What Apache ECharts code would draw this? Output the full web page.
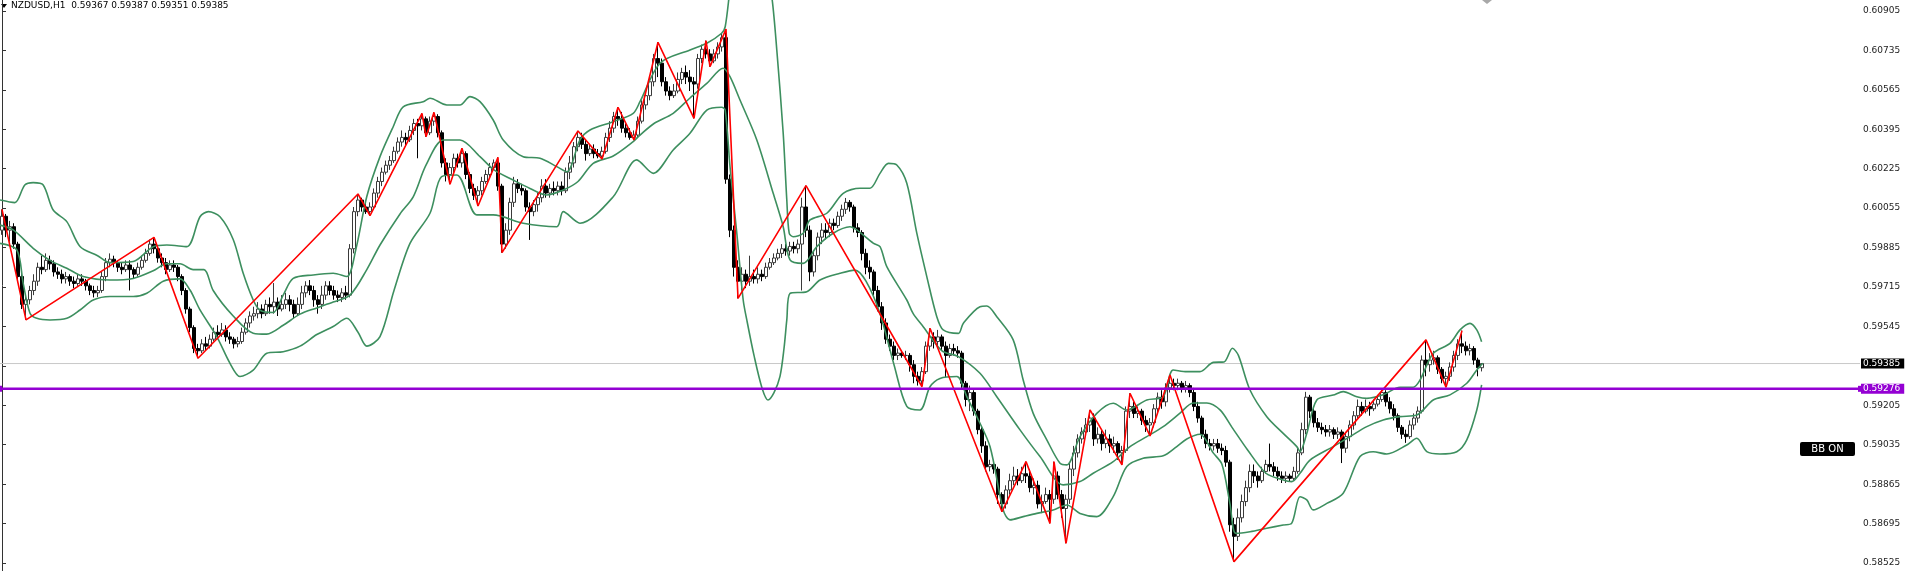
<!DOCTYPE html>
<html><head><meta charset="utf-8">
<script src="https://cdn.jsdelivr.net/npm/echarts@6/dist/echarts.min.js"></script>
<style>html,body{margin:0;padding:0;background:#fff}#c{width:1911px;height:571px}</style>
</head><body><div id="c"></div>
<script>
// ---- DATA (prices in units of 0.00001) ----
const symbolTitle = 'NZDUSD,H1';
const lastBar = ['0.59367', '0.59387', '0.59351', '0.59385'];
const currentPrice = 59385;
const levelPrice = 59276;
const tickLabels = ['0.58525','0.58695','0.58865','0.59035','0.59205','0.59375','0.59545','0.59715','0.59885','0.60055','0.60225','0.60395','0.60565','0.60735','0.60905'];
const shownTickLabels = ['0.58525','0.58695','0.58865','0.59035','0.59205','0.59545','0.59715','0.59885','0.60055','0.60225','0.60395','0.60565','0.60735','0.60905'];
const axisMin = 0.584906, axisMax = 0.609524;
const totalSlots = 465;

const candleOpen = [
59960,60020,59960,59975,59900,59760,59640,59660,59700,59740,
59800,59790,59830,59815,59780,59770,59750,59760,59740,59730,
59750,59740,59720,59700,59690,59700,59760,59820,59835,59820,
59800,59790,59810,59790,59770,59800,59830,59860,59900,59880,
59840,59820,59790,59810,59800,59760,59700,59620,59540,59450,
59440,59470,59460,59490,59520,59510,59530,59500,59490,59470,
59480,59520,59560,59590,59600,59620,59600,59640,59630,59650,
59620,59640,59660,59640,59600,59640,59690,59720,59700,59660,
59640,59680,59720,59700,59680,59670,59690,59680,59880,60040,
60090,60060,60040,60060,60120,60170,60210,60240,60260,60300,
60340,60360,60350,60390,60420,60410,60440,60380,60430,60450,
60380,60250,60200,60230,60270,60250,60290,60200,60140,60110,
60130,60170,60200,60230,60250,60150,59900,59960,60080,60160,
60140,60130,60060,60040,60070,60100,60150,60120,60140,60130,
60150,60130,60210,60250,60320,60360,60330,60290,60310,60290,
60280,60300,60360,60400,60450,60440,60400,60380,60360,60370,
60430,60500,60540,60600,60700,60680,60600,60560,60540,60560,
60610,60640,60620,60600,60590,60700,60740,60720,60690,60720,
60750,60790,60180,59960,59800,59740,59770,59740,59760,59750,
59770,59760,59800,59820,59840,59860,59880,59870,59890,59880,
59900,60060,59960,59780,59850,59930,59960,59950,59990,59980,
60020,60050,60080,60060,59970,59950,59860,59800,59780,59700,
59630,59560,59490,59460,59420,59430,59420,59420,59380,59330,
59310,59350,59460,59500,59480,59500,59460,59420,59450,59440,
59430,59300,59230,59260,59180,59100,59030,58940,58950,58930,
58820,58780,58840,58880,58900,58880,58910,58900,58850,58860,
58780,58790,58820,58800,58900,58820,58760,58800,58930,59000,
59060,59090,59120,59150,59060,59080,59040,59060,59030,59040,
59000,59010,59180,59200,59170,59180,59140,59120,59130,59190,
59240,59220,59280,59300,59290,59300,59280,59290,59260,59200,
59150,59080,59040,59030,59040,59020,59010,58960,58690,58640,
58720,58790,58850,58920,58900,58880,58920,58950,58940,58920,
58900,58890,58900,58890,58920,59000,59100,59240,59180,59130,
59110,59100,59090,59100,59080,59090,59020,59070,59120,59160,
59200,59180,59200,59190,59210,59230,59260,59220,59190,59160,
59110,59080,59070,59120,59150,59180,59400,59380,59400,59410,
59360,59320,59330,59370,59420,59470,59460,59440,59450,59400,
59367];
const candleClose = [
60020,59960,59975,59900,59760,59640,59660,59700,59740,59800,
59790,59830,59815,59780,59770,59750,59760,59740,59730,59750,
59740,59720,59700,59690,59700,59760,59820,59835,59820,59800,
59790,59810,59790,59770,59800,59830,59860,59900,59880,59840,
59820,59790,59810,59800,59760,59700,59620,59540,59450,59440,
59470,59460,59490,59520,59510,59530,59500,59490,59470,59480,
59520,59560,59590,59600,59620,59600,59640,59630,59650,59620,
59640,59660,59640,59600,59640,59690,59720,59700,59660,59640,
59680,59720,59700,59680,59670,59690,59680,59880,60040,60090,
60060,60040,60060,60120,60170,60210,60240,60260,60300,60340,
60360,60350,60390,60420,60410,60440,60380,60430,60450,60380,
60250,60200,60230,60270,60250,60290,60200,60140,60110,60130,
60170,60200,60230,60250,60150,59900,59960,60080,60160,60140,
60130,60060,60040,60070,60100,60150,60120,60140,60130,60150,
60130,60210,60250,60320,60360,60330,60290,60310,60290,60280,
60300,60360,60400,60450,60440,60400,60380,60360,60370,60430,
60500,60540,60600,60700,60680,60600,60560,60540,60560,60610,
60640,60620,60600,60590,60700,60740,60720,60690,60720,60750,
60790,60180,59960,59800,59740,59770,59740,59760,59750,59770,
59760,59800,59820,59840,59860,59880,59870,59890,59880,59900,
60060,59960,59780,59850,59930,59960,59950,59990,59980,60020,
60050,60080,60060,59970,59950,59860,59800,59780,59700,59630,
59560,59490,59460,59420,59430,59420,59420,59380,59330,59310,
59350,59460,59500,59480,59500,59460,59420,59450,59440,59430,
59300,59230,59260,59180,59100,59030,58940,58950,58930,58820,
58780,58840,58880,58900,58880,58910,58900,58850,58860,58780,
58790,58820,58800,58900,58820,58760,58800,58930,59000,59060,
59090,59120,59150,59060,59080,59040,59060,59030,59040,59000,
59010,59180,59200,59170,59180,59140,59120,59130,59190,59240,
59220,59280,59300,59290,59300,59280,59290,59260,59200,59150,
59080,59040,59030,59040,59020,59010,58960,58690,58640,58720,
58790,58850,58920,58900,58880,58920,58950,58940,58920,58900,
58890,58900,58890,58920,59000,59100,59240,59180,59130,59110,
59100,59090,59100,59080,59090,59020,59070,59120,59160,59200,
59180,59200,59190,59210,59230,59260,59220,59190,59160,59110,
59080,59070,59120,59150,59180,59400,59380,59400,59410,59360,
59320,59330,59370,59420,59470,59460,59440,59450,59400,59367,
59385];
const candleLow = [
59940,59930,59910,59880,59740,59620,59573,59640,59680,59720,
59770,59780,59790,59760,59750,59730,59730,59720,59710,59720,
59720,59700,59680,59670,59672,59690,59740,59800,59800,59780,
59770,59780,59700,59750,59760,59790,59820,59850,59860,59820,
59800,59770,59780,59780,59740,59680,59600,59520,59430,59408,
59430,59440,59450,59480,59490,59500,59480,59470,59450,59455,
59470,59510,59540,59570,59580,59580,59590,59600,59600,59590,
59610,59620,59610,59580,59590,59620,59670,59680,59630,59600,
59620,59660,59680,59660,59650,59650,59660,59670,59860,60020,
60040,60030,60023,60050,60100,60150,60200,60220,60250,60290,
60320,60320,60340,60370,60270,60390,60363,60370,60410,60360,
60230,60170,60158,60200,60230,60230,60180,60120,60090,60064,
60110,60160,60190,60220,60130,59863,59880,59940,60060,60120,
60110,60040,59918,60020,60040,60080,60100,60100,60110,60110,
60110,60120,60180,60230,60300,60310,60260,60280,60270,60270,
60267,60290,60340,60380,60410,60380,60360,60350,60349,60360,
60420,60480,60520,60580,60620,60580,60540,60520,60530,60550,
60590,60590,60560,60442,60570,60680,60700,60665,60680,60700,
60730,60160,59930,59760,59666,59700,59710,59720,59730,59730,
59740,59750,59790,59810,59830,59840,59850,59850,59860,59860,
59700,59930,59740,59760,59830,59900,59920,59930,59960,59970,
60000,60030,60040,59950,59930,59830,59770,59750,59680,59610,
59530,59470,59440,59400,59400,59410,59400,59350,59300,59290,
59285,59340,59440,59450,59460,59440,59327,59410,59420,59410,
59280,59200,59180,59160,59080,59000,58920,58920,58910,58780,
58746,58760,58820,58860,58860,58870,58870,58830,58820,58760,
58740,58780,58696,58780,58800,58720,58610,58780,58900,58980,
59040,59080,59090,59030,59040,59010,59020,59000,59000,58970,
58948,59000,59150,59150,59150,59120,59090,59073,59110,59170,
59190,59200,59260,59270,59270,59260,59260,59240,59180,59130,
59060,59020,59010,59010,59000,58990,58940,58660,58531,58620,
58700,58770,58830,58870,58850,58870,58910,58920,58900,58880,
58870,58870,58875,58880,58910,58990,59080,59150,59110,59090,
59080,59070,59070,59060,59060,58956,59000,59050,59100,59150,
59160,59170,59160,59180,59200,59220,59200,59170,59140,59090,
59060,59043,59060,59100,59130,59170,59330,59350,59380,59340,
59300,59283,59310,59350,59400,59430,59420,59420,59380,59330,
59351];
const candleHigh = [
60050,60030,60000,59990,59910,59770,59680,59720,59770,59820,
59850,59860,59850,59830,59800,59790,59780,59770,59760,59770,
59770,59750,59730,59720,59720,59780,59840,59860,59850,59830,
59820,59830,59830,59800,59820,59850,59880,59920,59929,59890,
59860,59840,59830,59830,59810,59770,59710,59630,59550,59470,
59490,59500,59510,59540,59550,59560,59550,59520,59500,59500,
59540,59580,59610,59630,59650,59640,59660,59670,59732,59670,
59680,59690,59680,59660,59670,59720,59740,59745,59720,59680,
59720,59740,59740,59720,59700,59710,59720,59900,60060,60116,
60100,60080,60080,60140,60190,60230,60260,60280,60320,60360,
60390,60380,60410,60440,60440,60464,60450,60450,60468,60460,
60390,60270,60250,60290,60290,60313,60300,60210,60160,60150,
60190,60220,60250,60265,60274,60160,59990,60100,60190,60180,
60160,60140,60080,60090,60120,60180,60180,60160,60170,60170,
60170,60230,60280,60340,60388,60380,60350,60330,60330,60310,
60320,60380,60430,60470,60490,60470,60420,60400,60390,60450,
60520,60560,60620,60720,60770,60700,60620,60580,60590,60640,
60660,60670,60650,60620,60720,60760,60777,60740,60740,60770,
60810,60827,60200,59980,59830,59800,59790,59850,59790,59800,
59790,59820,59840,59860,59880,59900,59900,59910,59910,59920,
60100,60152,59980,59870,59950,59990,59990,60010,60010,60040,
60070,60099,60090,60070,59990,59960,59880,59830,59790,59720,
59650,59580,59510,59480,59450,59440,59440,59430,59400,59350,
59370,59480,59537,59520,59530,59510,59480,59470,59470,59460,
59440,59310,59290,59270,59190,59110,59050,58970,58970,58940,
58830,58860,58910,58940,58930,58940,58962,58930,58890,58880,
58820,58850,58840,58962,58920,58840,58820,58960,59030,59080,
59110,59150,59185,59170,59110,59100,59100,59080,59070,59050,
59030,59200,59257,59220,59200,59190,59160,59150,59210,59260,
59270,59300,59336,59320,59320,59310,59310,59300,59280,59220,
59160,59100,59060,59060,59060,59040,59030,58970,58720,58760,
58820,58880,58950,58950,58920,58940,58970,59040,58960,58940,
58920,58920,58910,58940,59020,59130,59263,59250,59200,59150,
59130,59120,59120,59110,59110,59100,59090,59140,59180,59230,
59220,59230,59220,59230,59250,59271,59270,59240,59210,59170,
59120,59100,59140,59170,59200,59420,59487,59430,59440,59420,
59370,59350,59390,59440,59490,59527,59480,59470,59460,59410,
59387];

// ZigZag pivots (bar index, price)
const zigzagBar = [0,6,38,49,89,92,105,106,108,112,115,119,124,125,144,150,154,158,164,173,176,177,181,184,201,230,232,250,256,262,263,266,272,280,282,287,292,308,356,361,365];
const zigzagPrice = [60050,59573,59929,59408,60116,60023,60464,60363,60468,60158,60313,60064,60274,59863,60388,60267,60490,60349,60770,60442,60777,60665,60827,59666,60152,59285,59537,58746,58962,58696,58962,58610,59185,58948,59257,59073,59336,58531,59487,59283,59527];

// Bollinger bands (bar position, price)
const bbUpperBar = [-0.5,3.2,5.7,7.8,10.3,12.8,16.2,19.5,23.9,27,32.8,37.8,41.2,46.2,49.5,51.6,54.5,57.8,60.3,62.8,64.5,67.8,70.3,72.8,77.8,82.8,86.2,88.5,91.2,94.5,97.8,100.3,105.3,107,111.2,114.5,117,119.5,122.8,125.3,130.3,134.5,138.7,141.2,144.5,147,152.8,157.8,159.5,164.5,172,176.2,179.9,180.8,182,184,186.5,189,191,192.5,193.7,195.3,196.2,196.8,197.8,200.3,202,206.2,210.3,214.5,217,219.5,221.6,223.7,226.2,228.7,231.2,233.7,235.3,239.1,240.3,244.5,246.2,248.7,252.8,255.3,257.8,261.2,264.5,266.2,269.5,273.7,277.8,281.2,286.2,290.3,292.8,296.2,299.5,302.8,305.5,307.6,309.1,312,316.2,320.3,323.7,324.5,326.2,328.7,332.8,335.3,338.7,341.2,345.3,349.5,352.8,354.5,357.8,362,364.5,367,368.7,369.9];
const bbUpper = [60090,60079,60155,60165,60155,60047,59997,59890,59850,59820,59825,59889,59896,59889,60018,60040,60018,59920,59774,59659,59615,59605,59680,59752,59767,59774,59760,59880,60105,60277,60406,60492,60514,60529,60500,60500,60536,60514,60435,60349,60277,60270,60234,60212,60349,60392,60428,60464,60514,60680,60737,60766,60809,60837,61000,61250,61400,61350,61100,60960,60737,60378,60090,59947,59932,59947,60004,60033,60119,60141,60141,60205,60248,60241,60162,59947,59760,59587,59530,59515,59558,59630,59633,59587,59487,59314,59170,59056,58955,58948,59070,59170,59214,59185,59228,59242,59357,59350,59350,59390,59392,59451,59420,59271,59156,59084,59027,59005,59084,59228,59249,59264,59242,59235,59250,59283,59283,59314,59429,59472,59530,59558,59530,59479];
const bbMiddleBar = [-0.5,2.8,7.8,12,16.2,20.3,27,32.8,37.8,41.2,44.5,47.8,50.5,52.8,57.8,62.8,66.2,70.3,74.5,78.7,82.8,87,91.2,94.5,99.5,102.8,106,110.3,114.5,119.5,123,127.8,132,136.2,140.3,144,147.8,152.8,157.8,159.5,163,167.8,172,176.2,180.3,182,184.5,188.7,192.8,195.3,197,200.3,203.7,207.8,212,213.7,217.8,219.5,221.2,226.2,227.8,230.3,235,239.1,244.5,248.7,254.5,259.5,265.3,269.5,272.8,277.8,282,286.2,290.3,294.5,297.8,301.2,304.5,307.5,311.5,316,320.3,322.4,324.5,327,332.8,337,341.2,345.3,349.5,353.7,357.8,362,366.2,368.7,370.2];
const bbMiddle = [59982,59961,59882,59830,59796,59760,59745,59752,59785,59815,59815,59790,59790,59700,59590,59516,59512,59550,59598,59625,59650,59680,59790,59896,60030,60104,60240,60349,60349,60277,60220,60176,60140,60112,60133,60170,60248,60280,60342,60370,60420,60464,60530,60593,60658,60622,60521,60349,60119,59975,59832,59817,59889,59947,59975,59961,59904,59889,59803,59659,59600,59544,59440,59415,59343,59242,59099,58984,58862,58876,58912,58962,59027,59070,59113,59171,59215,59215,59185,59110,59010,58912,58883,58876,58912,58969,59027,59070,59113,59142,59156,59163,59228,59250,59300,59357,59386];
const bbLowerBar = [-0.5,3.7,5.3,7,8.7,12,16.2,19.5,22.8,27,32.8,36.2,40.3,44.5,47,49.5,53.7,57,59.5,62.8,66.2,70.3,74.5,78.7,82.8,86.2,89,91.2,94.5,98,102,107,109.9,113.7,118.7,122.8,130.3,138.7,140.3,144.5,152.8,158.7,162.8,167.8,172,176.2,179.9,180.8,182,183.7,185.3,186.2,188,190,191.5,193,194.5,195.5,196.2,197,201.2,204.5,209.5,213.2,216,219.5,223,226.2,229.5,232,234.5,238.7,241.2,243.7,247,250.3,252,255.3,258.7,262.8,266.2,269.5,273.7,277.8,281.2,285.3,290.3,293.7,296.2,299.5,302.8,305,307,308.5,312,316.2,320.3,322.4,324.5,326.2,327.8,331.2,335.3,339.5,342.8,346.2,351.2,353.7,356.2,359.5,363.7,366.2,368.7,369.9];
const bbLower = [59903,59875,59731,59602,59580,59573,59580,59616,59659,59674,59674,59688,59740,59750,59702,59616,59501,59386,59329,59357,59429,59436,59460,59510,59545,59580,59520,59460,59501,59700,59903,60033,60191,60198,60026,60026,59990,59975,60040,59990,60104,60263,60205,60306,60378,60478,60490,60478,60234,59947,59659,59573,59420,59280,59228,59260,59330,59450,59573,59688,59695,59745,59774,59788,59740,59600,59380,59200,59185,59285,59321,59329,59242,59156,59027,58754,58711,58725,58739,58754,58775,58739,58725,58811,58941,58977,58987,59027,59060,59080,59000,58950,58780,58653,58660,58675,58689,58696,58811,58797,58754,58782,58826,58984,59005,58995,59034,59063,59005,58995,59005,59056,59185,59293];

// ---- BUILD ----
const P = v => v / 1e5;
const cats = Array.from({length: totalSlots}, (_, i) => i);
const kData = candleOpen.map((o, i) => [P(o), P(candleClose[i]), P(candleLow[i]), P(candleHigh[i])]);
const pairs = (xs, ys) => xs.map((x, i) => [x, P(ys[i])]);
const FONT = '"DejaVu Sans", Tahoma, sans-serif';
const BB_COLOR = '#3d8f5f';
const tickVals = tickLabels.map(Number);
const labelVals = shownTickLabels.map(Number);

const bbSeries = (name, xs, ys) => ({
  name, type: 'line', xAxisIndex: 1, yAxisIndex: 0, data: pairs(xs, ys),
  showSymbol: false, smooth: 0.3, silent: true, z: 3,
  lineStyle: {color: BB_COLOR, width: 1.6}
});
const hLine = (name, price, color, width, z, tagBg, handles) => ({
  name, type: 'line', xAxisIndex: 1, yAxisIndex: 0, silent: true, z,
  data: [[-0.5, P(price)], [totalSlots - 0.5, P(price)]],
  symbol: handles ? 'rect' : 'none', symbolSize: [4, 6], showSymbol: !!handles, showAllSymbol: true,
  itemStyle: {color},
  lineStyle: {color, width},
  endLabel: {show: true, formatter: P(price).toFixed(5), distance: 1,
    backgroundColor: tagBg, color: '#fff', fontSize: 9, fontFamily: FONT, padding: [1, 4, 0, 2]}
});

const chart = echarts.init(document.getElementById('c'), null, {renderer: 'canvas'});
chart.setOption({
  animation: false,
  backgroundColor: '#ffffff',
  grid: {left: 0, right: 51, top: 0, bottom: 0, containLabel: false},
  xAxis: [
    {type: 'category', data: cats, boundaryGap: true, show: false},
    {type: 'value', min: -0.5, max: totalSlots - 0.5, show: false}
  ],
  yAxis: {
    type: 'value', position: 'right', min: axisMin, max: axisMax,
    splitLine: {show: false},
    axisLine: {show: true, lineStyle: {color: '#333', width: 1}},
    axisTick: {show: true, length: 4, lineStyle: {color: '#333'}, customValues: tickVals},
    axisLabel: {color: '#222', fontSize: 9, fontFamily: FONT, margin: 3, customValues: labelVals,
      formatter: v => v.toFixed(5)}
  },
  series: [
    {
      name: 'price', type: 'candlestick', xAxisIndex: 0, yAxisIndex: 0, data: kData,
      barWidth: 2.8, z: 2, silent: true,
      itemStyle: {color: '#ffffff', color0: '#000000', borderColor: '#3a3a3a', borderColor0: '#000000', borderWidth: 1}
    },
    hLine('current', currentPrice, '#c8c8c8', 1, 1, '#000', false),
    hLine('level', levelPrice, '#9400D3', 2.5, 5, '#9400D3', true),
    bbSeries('bb upper', bbUpperBar, bbUpper),
    bbSeries('bb middle', bbMiddleBar, bbMiddle),
    bbSeries('bb lower', bbLowerBar, bbLower),
    {
      name: 'zigzag', type: 'line', xAxisIndex: 1, yAxisIndex: 0, data: pairs(zigzagBar, zigzagPrice),
      showSymbol: false, silent: true, z: 4,
      lineStyle: {color: '#ff0000', width: 1.6}
    }
  ],
  graphic: [
    {type: 'polygon', shape: {points: [[1, 4], [7, 4], [4, 8]]}, style: {fill: '#000'}},
    {type: 'text', left: 11, top: 1,
      style: {text: symbolTitle + '  ' + lastBar.join(' '), font: '9px ' + FONT, fill: '#000'}},
    {type: 'polygon', shape: {points: [[1482, 0], [1492, 0], [1487, 4]]}, style: {fill: '#a8a8a8'}},
    {type: 'group', left: 1800, top: 442, children: [
      {type: 'rect', shape: {x: 0, y: 0, width: 55, height: 14, r: 2}, style: {fill: '#000'}},
      {type: 'text', style: {text: 'BB ON', x: 27.5, y: 7.5, align: 'center', verticalAlign: 'middle',
        font: '10px ' + FONT, fill: '#fff'}}
    ]}
  ]
});
</script>
</body></html>
